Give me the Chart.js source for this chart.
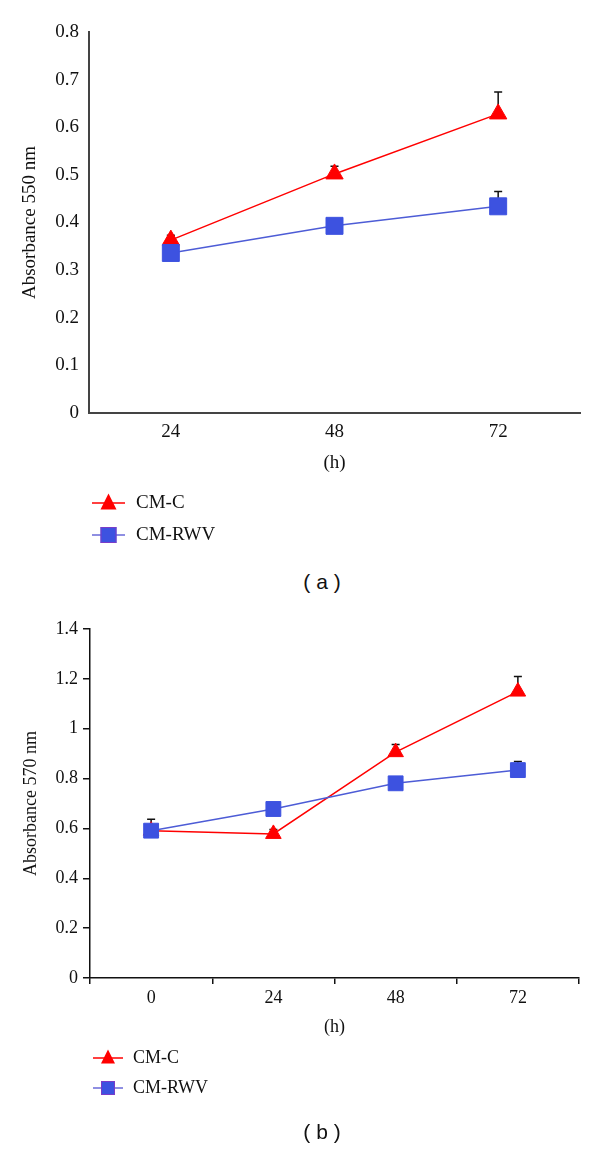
<!DOCTYPE html>
<html><head><meta charset="utf-8">
<script src="https://cdn.jsdelivr.net/npm/chart.js@4/dist/chart.umd.min.js"></script>
<style>
html,body{margin:0;padding:0;background:#fff;}
body{width:600px;height:1149px;position:relative;overflow:hidden;}
.box{position:absolute;left:0;width:600px;}
#boxA{top:0;height:560px;}
#boxB{top:600px;height:549px;}
.cap{position:absolute;font-family:"Liberation Sans",Arial,sans-serif;font-size:21px;color:#111;transform:translate(-50%,-50%);white-space:pre;}
</style></head><body>
<div class="box" id="boxA"><canvas id="chartA"></canvas></div>
<div class="box" id="boxB"><canvas id="chartB"></canvas></div>
<div class="cap" style="left:322px;top:582px">( a )</div>
<div class="cap" style="left:322px;top:1132px">( b )</div>
<script>
// ---- Panel (a) data ----
const hoursA = ['24', '48', '72'];
const cmcA = [0.363, 0.502, 0.628];
const cmcErrA = [0.01, 0.016, 0.046];
const rwvA = [0.336, 0.393, 0.434];
const rwvErrA = [0, 0, 0.031];
const yMaxA = 0.8, yStepA = 0.1;

// ---- Panel (b) data ----
const hoursB = ['0', '24', '48', '72'];
const cmcB = [0.591, 0.578, 0.906, 1.149];
const cmcErrB = [0.02, 0.018, 0.031, 0.06];
const rwvB = [0.591, 0.678, 0.781, 0.834];
const rwvErrB = [0.046, 0, 0, 0.034];
const yMaxB = 1.4, yStepB = 0.2;

const seriesNames = ['CM-C', 'CM-RWV'];
const xTitle = '(h)';

Chart.defaults.font.family = '"Liberation Serif", "Times New Roman", serif';
Chart.defaults.color = '#111';

const errorBars = {
  id: 'errorBars',
  beforeDatasetsDraw(chart, args, opts) {
    const ctx = chart.ctx, ys = chart.scales.y;
    chart.data.datasets.forEach((ds, i) => {
      if (!ds.errors) return;
      const meta = chart.getDatasetMeta(i);
      ctx.save();
      ctx.strokeStyle = opts.color; ctx.lineWidth = opts.width;
      meta.data.forEach((pt, j) => {
        const e = ds.errors[j];
        if (!e) return;
        const y0 = ys.getPixelForValue(ds.data[j]);
        const y1 = ys.getPixelForValue(ds.data[j] + e);
        ctx.beginPath();
        ctx.moveTo(pt.x, y0); ctx.lineTo(pt.x, y1);
        ctx.moveTo(pt.x - opts.cap, y1); ctx.lineTo(pt.x + opts.cap, y1);
        ctx.stroke();
      });
      ctx.restore();
    });
  }
};

const lineLegend = {
  id: 'lineLegend',
  afterDraw(chart, args, o) {
    const ctx = chart.ctx;
    o.order.forEach((di, k) => {
      const ds = chart.data.datasets[di];
      const y = o.y + k * o.gap;
      const cx = (o.x0 + o.x1) / 2;
      ctx.save();
      ctx.strokeStyle = o.lineColors[k]; ctx.lineWidth = 1.5;
      ctx.beginPath(); ctx.moveTo(o.x0, y); ctx.lineTo(o.x1, y); ctx.stroke();
      ctx.fillStyle = ds.pointBackgroundColor;
      if (ds.pointStyle === 'triangle') {
        const w = o.tri, h = o.tri;
        ctx.beginPath();
        ctx.moveTo(cx, y - h * 0.6);
        ctx.lineTo(cx - w / 2, y + h * 0.4);
        ctx.lineTo(cx + w / 2, y + h * 0.4);
        ctx.closePath(); ctx.fill();
      } else {
        const s = o.sq;
        ctx.fillRect(cx - s / 2, y - s / 2, s, s);
        ctx.strokeStyle = '#7a3cc8'; ctx.lineWidth = 1;
        ctx.strokeRect(cx - s / 2 + 0.5, y - s / 2 + 0.5, s - 1, s - 1);
      }
      ctx.fillStyle = '#111';
      ctx.font = o.fontSize + 'px "Liberation Serif", "Times New Roman", serif';
      ctx.textBaseline = 'middle'; ctx.textAlign = 'left';
      ctx.fillText(ds.label, o.tx, y);
      ctx.restore();
    });
  }
};

function makeChart(id, cfg) {
  const fs = cfg.fontSize;
  return new Chart(document.getElementById(id), {
    type: 'line',
    data: {
      labels: cfg.labels,
      datasets: [
        { label: seriesNames[0], data: cfg.cmc, errors: cfg.cmcErr,
          borderColor: '#ff0000', backgroundColor: '#ff0000',
          pointBackgroundColor: '#ff0000', pointBorderColor: '#ff0000',
          pointStyle: 'triangle', pointRadius: cfg.triR, pointBorderWidth: 1,
          borderWidth: 1.5, tension: 0, order: 1 },
        { label: seriesNames[1], data: cfg.rwv, errors: cfg.rwvErr,
          borderColor: '#4d5cd6', backgroundColor: '#3d52e0',
          pointBackgroundColor: '#3d52e0', pointBorderColor: '#3d52e0',
          pointStyle: 'rect', pointRadius: cfg.sqR, pointBorderWidth: 1,
          borderWidth: 1.5, tension: 0, order: 0 }
      ]
    },
    options: {
      responsive: true, maintainAspectRatio: false, animation: false,
      layout: { padding: cfg.pad },
      plugins: {
        legend: { display: false }, tooltip: { enabled: false },
        errorBars: { color: '#111', width: 1.5, cap: 4 },
        lineLegend: cfg.legend
      },
      scales: {
        x: {
          type: 'category', offset: true,
          grid: { display: true, drawOnChartArea: false, drawTicks: cfg.xTicks,
                  tickLength: 6, offset: true, color: cfg.axisColor, lineWidth: cfg.axisWidth },
          border: { display: true, color: cfg.axisColor, width: cfg.axisWidth },
          ticks: { padding: cfg.xPad, font: { size: fs }, color: '#111' },
          title: { display: true, text: xTitle, font: { size: fs }, color: '#111', padding: { top: 0, bottom: 0 } },
          afterFit(s) { s.height = cfg.xH; }
        },
        y: {
          min: 0, max: cfg.yMax,
          ticks: { stepSize: cfg.yStep, padding: cfg.yPad, font: { size: fs }, color: '#111',
                   callback: v => String(Math.round(v * 10) / 10) },
          grid: { display: true, drawOnChartArea: false, drawTicks: cfg.yTicks,
                  tickLength: 7, color: cfg.axisColor, lineWidth: cfg.axisWidth },
          border: { display: true, color: cfg.axisColor, width: cfg.axisWidth },
          title: { display: true, text: cfg.yTitle, font: { size: fs }, color: '#111', padding: { top: cfg.yTitlePad, bottom: 0 } },
          afterFit(s) { s.width = cfg.yW; }
        }
      }
    },
    plugins: [errorBars, lineLegend]
  });
}

makeChart('chartA', {
  labels: hoursA, cmc: cmcA, cmcErr: cmcErrA, rwv: rwvA, rwvErr: rwvErrA,
  yMax: yMaxA, yStep: yStepA, yTitle: 'Absorbance 550 nm',
  fontSize: 19, triR: 10, sqR: 12,
  pad: { top: 32, right: 20, bottom: 86, left: 0 },
  xH: 61, yW: 89, xPad: 8, yPad: 10, yTitlePad: 19,
  xTicks: false, yTicks: false, axisColor: '#444', axisWidth: 2,
  legend: { order: [0, 1], x0: 92, x1: 125, y: 503, gap: 32, tx: 136, fontSize: 19,
            tri: 16, sq: 16, lineColors: ['#ff0000', '#6a6ad8'] }
});

makeChart('chartB', {
  labels: hoursB, cmc: cmcB, cmcErr: cmcErrB, rwv: rwvB, rwvErr: rwvErrB,
  yMax: yMaxB, yStep: yStepB, yTitle: 'Absorbance 570 nm',
  fontSize: 18, triR: 9, sqR: 10.5,
  pad: { top: 29, right: 21, bottom: 111, left: 0 },
  xH: 60, yW: 90, xPad: 3, yPad: 5, yTitlePad: 20,
  xTicks: true, yTicks: true, axisColor: '#111', axisWidth: 1.5,
  legend: { order: [0, 1], x0: 93, x1: 123, y: 458, gap: 30, tx: 133, fontSize: 18,
            tri: 14, sq: 14, lineColors: ['#ff0000', '#6a6ad8'] }
});
</script>
</body></html>
